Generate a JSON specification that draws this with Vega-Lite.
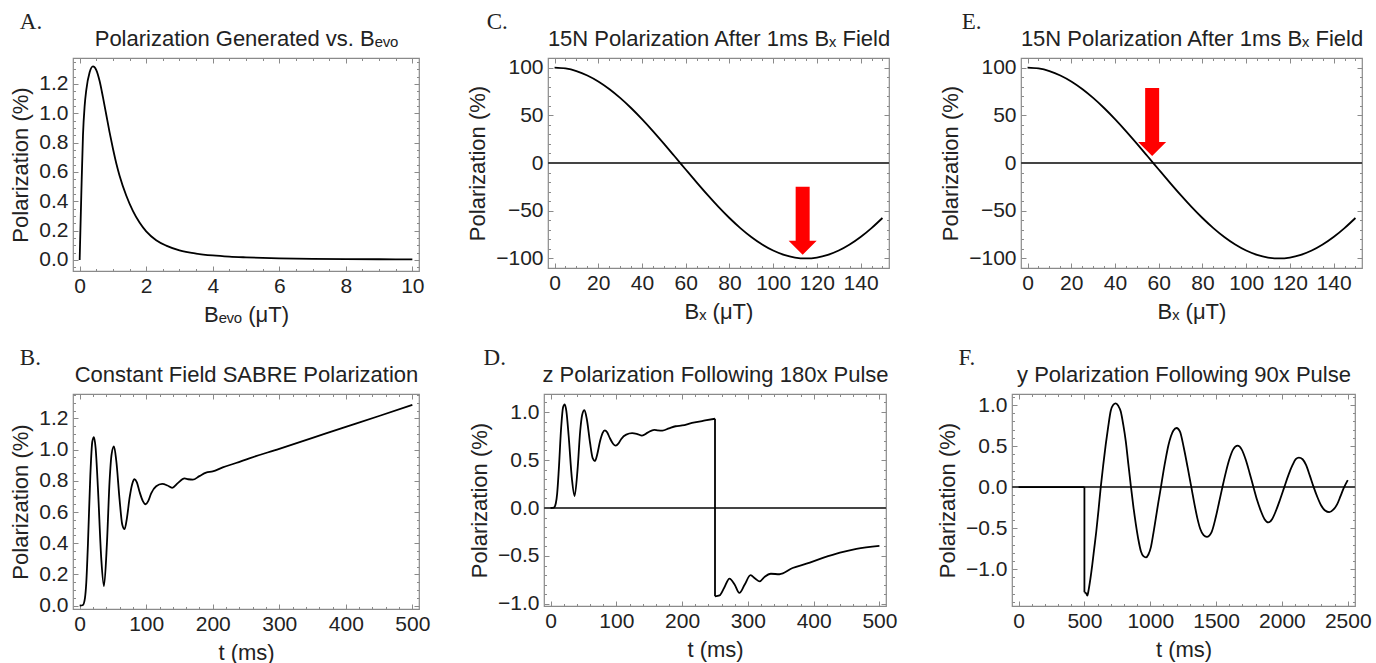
{
  "$schema": "https://vega.github.io/schema/vega-lite/v6.json",
  "background": "white",
  "padding": {"left": 9, "top": 9, "right": 0, "bottom": 0},
  "datasets": {
    "A": [{"x":0,"y":0},{"x":0.05,"y":0.45},{"x":0.1,"y":0.85},{"x":0.15,"y":1.05},{"x":0.2,"y":1.16},{"x":0.3,"y":1.28},{"x":0.4,"y":1.32},{"x":0.5,"y":1.295},{"x":0.6,"y":1.22},{"x":0.7,"y":1.11},{"x":0.8,"y":0.99},{"x":0.9,"y":0.87},{"x":1.0,"y":0.76},{"x":1.1,"y":0.66},{"x":1.2,"y":0.575},{"x":1.4,"y":0.44},{"x":1.6,"y":0.335},{"x":1.8,"y":0.255},{"x":2.0,"y":0.195},{"x":2.3,"y":0.135},{"x":2.6,"y":0.098},{"x":3.0,"y":0.066},{"x":3.5,"y":0.044},{"x":4.0,"y":0.031},{"x":4.5,"y":0.023},{"x":5.0,"y":0.018},{"x":6.0,"y":0.011},{"x":7.0,"y":0.008},{"x":8.0,"y":0.006},{"x":9.0,"y":0.005},{"x":10.0,"y":0.004}],
    "B": [{"x":0,"y":0},{"x":5,"y":0.005},{"x":8,"y":0.05},{"x":10,"y":0.15},{"x":12.5,"y":0.4},{"x":16,"y":0.83},{"x":19,"y":1.05},{"x":21.5,"y":1.08},{"x":24,"y":1.01},{"x":27.5,"y":0.75},{"x":32.5,"y":0.3},{"x":36.5,"y":0.125},{"x":41,"y":0.4},{"x":45,"y":0.8},{"x":48,"y":0.97},{"x":51.5,"y":1.02},{"x":55,"y":0.93},{"x":60,"y":0.68},{"x":64,"y":0.52},{"x":67.5,"y":0.49},{"x":71,"y":0.56},{"x":75,"y":0.69},{"x":79,"y":0.78},{"x":82.5,"y":0.81},{"x":86,"y":0.79},{"x":90,"y":0.73},{"x":95,"y":0.67},{"x":99,"y":0.65},{"x":103,"y":0.67},{"x":107.5,"y":0.72},{"x":115,"y":0.765},{"x":124,"y":0.78},{"x":132,"y":0.77},{"x":139,"y":0.755},{"x":147.5,"y":0.785},{"x":157.5,"y":0.815},{"x":163,"y":0.81},{"x":170,"y":0.807},{"x":180,"y":0.83},{"x":190,"y":0.852},{"x":200,"y":0.86},{"x":215,"y":0.886},{"x":235,"y":0.914},{"x":255,"y":0.944},{"x":300,"y":1.005},{"x":350,"y":1.075},{"x":400,"y":1.145},{"x":450,"y":1.215},{"x":500,"y":1.286}],
    "C": [{"x":0,"y":100},{"x":5,"y":99.07},{"x":10,"y":96.29},{"x":15,"y":91.72},{"x":20,"y":85.44},{"x":25,"y":77.56},{"x":30,"y":68.22},{"x":35,"y":57.64},{"x":40,"y":46.0},{"x":45,"y":33.49},{"x":50,"y":20.35},{"x":55,"y":6.82},{"x":60,"y":-6.82},{"x":65,"y":-20.35},{"x":70,"y":-33.49},{"x":75,"y":-46.0},{"x":80,"y":-57.64},{"x":85,"y":-68.22},{"x":90,"y":-77.56},{"x":95,"y":-85.44},{"x":100,"y":-91.72},{"x":105,"y":-96.29},{"x":110,"y":-99.07},{"x":115,"y":-100},{"x":120,"y":-99.07},{"x":125,"y":-96.29},{"x":130,"y":-91.72},{"x":135,"y":-85.44},{"x":140,"y":-77.56},{"x":145,"y":-68.22},{"x":150,"y":-57.64}],
    "D": [{"x":0,"y":0,"s":"a"},{"x":5,"y":0.005,"s":"a"},{"x":8,"y":0.05,"s":"a"},{"x":10,"y":0.15,"s":"a"},{"x":12.5,"y":0.4,"s":"a"},{"x":16,"y":0.83,"s":"a"},{"x":19,"y":1.05,"s":"a"},{"x":21.5,"y":1.08,"s":"a"},{"x":24,"y":1.01,"s":"a"},{"x":27.5,"y":0.75,"s":"a"},{"x":32.5,"y":0.3,"s":"a"},{"x":36.5,"y":0.125,"s":"a"},{"x":41,"y":0.4,"s":"a"},{"x":45,"y":0.8,"s":"a"},{"x":48,"y":0.97,"s":"a"},{"x":51.5,"y":1.02,"s":"a"},{"x":55,"y":0.93,"s":"a"},{"x":60,"y":0.68,"s":"a"},{"x":64,"y":0.52,"s":"a"},{"x":67.5,"y":0.49,"s":"a"},{"x":71,"y":0.56,"s":"a"},{"x":75,"y":0.69,"s":"a"},{"x":79,"y":0.78,"s":"a"},{"x":82.5,"y":0.81,"s":"a"},{"x":86,"y":0.79,"s":"a"},{"x":90,"y":0.73,"s":"a"},{"x":95,"y":0.67,"s":"a"},{"x":99,"y":0.65,"s":"a"},{"x":103,"y":0.67,"s":"a"},{"x":107.5,"y":0.72,"s":"a"},{"x":115,"y":0.765,"s":"a"},{"x":124,"y":0.78,"s":"a"},{"x":132,"y":0.77,"s":"a"},{"x":139,"y":0.755,"s":"a"},{"x":147.5,"y":0.785,"s":"a"},{"x":157.5,"y":0.815,"s":"a"},{"x":163,"y":0.81,"s":"a"},{"x":170,"y":0.807,"s":"a"},{"x":180,"y":0.83,"s":"a"},{"x":190,"y":0.852,"s":"a"},{"x":200,"y":0.86,"s":"a"},{"x":215,"y":0.886,"s":"a"},{"x":235,"y":0.912,"s":"a"},{"x":250,"y":0.93,"s":"a"},{"x":250,"y":0.93,"s":"v"},{"x":250,"y":-0.92,"s":"v"},{"x":250,"y":-0.92,"s":"b"},{"x":257,"y":-0.91,"s":"b"},{"x":264,"y":-0.83,"s":"b"},{"x":272,"y":-0.735,"s":"b"},{"x":280,"y":-0.8,"s":"b"},{"x":287,"y":-0.885,"s":"b"},{"x":295,"y":-0.8,"s":"b"},{"x":304,"y":-0.7,"s":"b"},{"x":311,"y":-0.735,"s":"b"},{"x":318,"y":-0.765,"s":"b"},{"x":325,"y":-0.72,"s":"b"},{"x":335,"y":-0.685,"s":"b"},{"x":348,"y":-0.69,"s":"b"},{"x":368,"y":-0.625,"s":"b"},{"x":389,"y":-0.58,"s":"b"},{"x":414,"y":-0.52,"s":"b"},{"x":440,"y":-0.465,"s":"b"},{"x":465,"y":-0.425,"s":"b"},{"x":500,"y":-0.395,"s":"b"}],
    "F": [{"x":0,"y":0,"s":"a"},{"x":500,"y":0,"s":"a"},{"x":500,"y":0,"s":"v"},{"x":500,"y":-1.28,"s":"v"},{"x":500,"y":-1.28,"s":"b"},{"x":512,"y":-1.29,"s":"b"},{"x":522,"y":-1.32,"s":"b"},{"x":532,"y":-1.25,"s":"b"},{"x":545,"y":-1.12,"s":"b"},{"x":560,"y":-0.94,"s":"b"},{"x":575,"y":-0.74,"s":"b"},{"x":590,"y":-0.54,"s":"b"},{"x":607,"y":-0.28,"s":"b"},{"x":624,"y":0,"s":"b"},{"x":643,"y":0.27,"s":"b"},{"x":662,"y":0.52,"s":"b"},{"x":681,"y":0.74,"s":"b"},{"x":700,"y":0.93,"s":"b"},{"x":718,"y":1.0,"s":"b"},{"x":738,"y":1.02,"s":"b"},{"x":757,"y":0.99,"s":"b"},{"x":776,"y":0.92,"s":"b"},{"x":795,"y":0.76,"s":"b"},{"x":814,"y":0.56,"s":"b"},{"x":833,"y":0.29,"s":"b"},{"x":853,"y":0.01,"s":"b"},{"x":872,"y":-0.24,"s":"b"},{"x":891,"y":-0.455,"s":"b"},{"x":910,"y":-0.64,"s":"b"},{"x":929,"y":-0.78,"s":"b"},{"x":948,"y":-0.84,"s":"b"},{"x":967,"y":-0.855,"s":"b"},{"x":986,"y":-0.82,"s":"b"},{"x":1005,"y":-0.73,"s":"b"},{"x":1024,"y":-0.56,"s":"b"},{"x":1043,"y":-0.37,"s":"b"},{"x":1062,"y":-0.18,"s":"b"},{"x":1081,"y":0,"s":"b"},{"x":1100,"y":0.19,"s":"b"},{"x":1119,"y":0.36,"s":"b"},{"x":1138,"y":0.51,"s":"b"},{"x":1157,"y":0.62,"s":"b"},{"x":1176,"y":0.69,"s":"b"},{"x":1200,"y":0.72,"s":"b"},{"x":1225,"y":0.68,"s":"b"},{"x":1256,"y":0.47,"s":"b"},{"x":1284,"y":0.24,"s":"b"},{"x":1312,"y":0,"s":"b"},{"x":1335,"y":-0.2,"s":"b"},{"x":1358,"y":-0.38,"s":"b"},{"x":1380,"y":-0.51,"s":"b"},{"x":1405,"y":-0.585,"s":"b"},{"x":1430,"y":-0.605,"s":"b"},{"x":1465,"y":-0.55,"s":"b"},{"x":1497,"y":-0.37,"s":"b"},{"x":1522,"y":-0.19,"s":"b"},{"x":1548,"y":0,"s":"b"},{"x":1574,"y":0.18,"s":"b"},{"x":1599,"y":0.33,"s":"b"},{"x":1630,"y":0.46,"s":"b"},{"x":1664,"y":0.505,"s":"b"},{"x":1694,"y":0.46,"s":"b"},{"x":1726,"y":0.33,"s":"b"},{"x":1755,"y":0.17,"s":"b"},{"x":1784,"y":0,"s":"b"},{"x":1812,"y":-0.16,"s":"b"},{"x":1840,"y":-0.29,"s":"b"},{"x":1868,"y":-0.39,"s":"b"},{"x":1897,"y":-0.43,"s":"b"},{"x":1925,"y":-0.39,"s":"b"},{"x":1954,"y":-0.29,"s":"b"},{"x":1986,"y":-0.15,"s":"b"},{"x":2018,"y":0,"s":"b"},{"x":2050,"y":0.15,"s":"b"},{"x":2081,"y":0.27,"s":"b"},{"x":2105,"y":0.34,"s":"b"},{"x":2129,"y":0.36,"s":"b"},{"x":2157,"y":0.34,"s":"b"},{"x":2183,"y":0.27,"s":"b"},{"x":2212,"y":0.14,"s":"b"},{"x":2241,"y":0,"s":"b"},{"x":2269,"y":-0.12,"s":"b"},{"x":2297,"y":-0.22,"s":"b"},{"x":2328,"y":-0.285,"s":"b"},{"x":2360,"y":-0.305,"s":"b"},{"x":2390,"y":-0.275,"s":"b"},{"x":2419,"y":-0.21,"s":"b"},{"x":2445,"y":-0.11,"s":"b"},{"x":2470,"y":-0.01,"s":"b"},{"x":2500,"y":0.085,"s":"b"}],
    "arrowC": [{"x":113.5,"y":-60.5}],
    "arrowE": [{"x":57,"y":43}]
  },
  "vconcat": [
    {
      "hconcat": [
        {
          "width": 346, "height": 213,
          "title": {"text": "A.", "dx": 10},
          "data": {"name": "A"},
          "layer": [
            {"mark": {"type": "line", "color": "#000", "strokeWidth": 1.8, "interpolate": "monotone"},
             "encoding": {
               "x": {"field": "x", "type": "quantitative", "scale": {"domain": [-0.2, 10.2], "nice": false, "zero": false},
                 "axis": {"orient": "bottom", "values": [0,0.5,1,1.5,2,2.5,3,3.5,4,4.5,5,5.5,6,6.5,7,7.5,8,8.5,9,9.5,10], "tickSize": {"condition": {"test": "abs(datum.value/2-round(datum.value/2))<1e-6", "value": -5}, "value": -2.5}, "labelExpr": "abs(datum.value/2-round(datum.value/2))<1e-6 ? format(datum.value,'d') : ''", "labelPadding": 9, "title": "Bₑᵥₒ (μT)"}},
               "y": {"field": "y", "type": "quantitative", "scale": {"domain": [-0.075, 1.377], "nice": false, "zero": false},
                 "axis": {"orient": "left", "values": [-0.05,0,0.05,0.1,0.15,0.2,0.25,0.3,0.35,0.4,0.45,0.5,0.55,0.6,0.65,0.7,0.75,0.8,0.85,0.9,0.95,1,1.05,1.1,1.15,1.2,1.25,1.3,1.35], "tickSize": {"condition": {"test": "abs(datum.value/0.2-round(datum.value/0.2))<1e-6", "value": -5}, "value": -2.5}, "labelExpr": "abs(datum.value/0.2-round(datum.value/0.2))<1e-6 ? format(datum.value,'.1f') : ''", "labelPadding": 10, "title": "Polarization (%)"}}
             }},
            {"mark": {"type": "line", "opacity": 0},
             "encoding": {
               "x": {"field": "x", "type": "quantitative", "scale": {"domain": [-0.2, 10.2], "nice": false, "zero": false},
                 "axis": {"orient": "top", "values": [0,0.5,1,1.5,2,2.5,3,3.5,4,4.5,5,5.5,6,6.5,7,7.5,8,8.5,9,9.5,10], "tickSize": {"condition": {"test": "abs(datum.value/2-round(datum.value/2))<1e-6", "value": -5}, "value": -2.5}, "labels": false, "title": "Polarization Generated vs. Bₑᵥₒ"}},
               "y": {"field": "y", "type": "quantitative", "scale": {"domain": [-0.075, 1.377], "nice": false, "zero": false},
                 "axis": {"orient": "right", "values": [-0.05,0,0.05,0.1,0.15,0.2,0.25,0.3,0.35,0.4,0.45,0.5,0.55,0.6,0.65,0.7,0.75,0.8,0.85,0.9,0.95,1,1.05,1.1,1.15,1.2,1.25,1.3,1.35], "tickSize": {"condition": {"test": "abs(datum.value/0.2-round(datum.value/0.2))<1e-6", "value": -5}, "value": -2.5}, "labels": false, "title": null}}
             }}
          ],
          "resolve": {"axis": {"x": "independent", "y": "independent"}}
        },
        {
          "spacing": 48,
          "hconcat": [
            {
              "width": 341, "height": 210,
              "title": {"text": "C.", "dx": 20},
              "data": {"name": "C"},
              "layer": [
                {"mark": {"type": "rule", "color": "#444", "strokeWidth": 1.2},
                 "encoding": {"y": {"datum": 0, "type": "quantitative", "scale": {"domain": [-110, 110], "nice": false, "zero": false}, "axis": null}}},
                {"mark": {"type": "line", "color": "#000", "strokeWidth": 1.8, "interpolate": "monotone"},
                 "encoding": {
                   "x": {"field": "x", "type": "quantitative", "scale": {"domain": [-3, 153], "nice": false, "zero": false},
                     "axis": {"orient": "bottom", "values": [0,5,10,15,20,25,30,35,40,45,50,55,60,65,70,75,80,85,90,95,100,105,110,115,120,125,130,135,140,145,150], "tickSize": {"condition": {"test": "abs(datum.value/20-round(datum.value/20))<1e-6", "value": -5}, "value": -2.5}, "labelExpr": "abs(datum.value/20-round(datum.value/20))<1e-6 ? format(datum.value,'d') : ''", "labelPadding": 9, "title": "Bₓ (μT)"}},
                   "y": {"field": "y", "type": "quantitative", "scale": {"domain": [-110, 110], "nice": false, "zero": false},
                     "axis": {"orient": "left", "values": [-100,-90,-80,-70,-60,-50,-40,-30,-20,-10,0,10,20,30,40,50,60,70,80,90,100], "tickSize": {"condition": {"test": "abs(datum.value/50-round(datum.value/50))<1e-6", "value": -5}, "value": -2.5}, "labelExpr": "abs(datum.value/50-round(datum.value/50))<1e-6 ? format(datum.value,'d') : ''", "labelPadding": 10, "title": "Polarization (%)"}}
                 }},
                {"mark": {"type": "line", "opacity": 0},
                 "encoding": {
                   "x": {"field": "x", "type": "quantitative", "scale": {"domain": [-3, 153], "nice": false, "zero": false},
                     "axis": {"orient": "top", "values": [0,5,10,15,20,25,30,35,40,45,50,55,60,65,70,75,80,85,90,95,100,105,110,115,120,125,130,135,140,145,150], "tickSize": {"condition": {"test": "abs(datum.value/20-round(datum.value/20))<1e-6", "value": -5}, "value": -2.5}, "labels": false, "title": "15N Polarization After 1ms Bₓ Field"}},
                   "y": {"field": "y", "type": "quantitative", "scale": {"domain": [-110, 110], "nice": false, "zero": false},
                     "axis": {"orient": "right", "values": [-100,-90,-80,-70,-60,-50,-40,-30,-20,-10,0,10,20,30,40,50,60,70,80,90,100], "tickSize": {"condition": {"test": "abs(datum.value/50-round(datum.value/50))<1e-6", "value": -5}, "value": -2.5}, "labels": false, "title": null}}
                 }},
                {"data": {"name": "arrowC"},
                 "mark": {"type": "point", "shape": "M-0.5,-2.43L0.5,-2.43L0.5,1.43L1,1.43L0,2.43L-1,1.43L-0.5,1.43Z", "size": 784, "filled": true, "color": "#ff0000", "opacity": 1, "strokeWidth": 0},
                 "encoding": {
                   "x": {"field": "x", "type": "quantitative", "scale": {"domain": [-3, 153], "nice": false, "zero": false}, "axis": null},
                   "y": {"field": "y", "type": "quantitative", "scale": {"domain": [-110, 110], "nice": false, "zero": false}, "axis": null}
                 }}
              ],
              "resolve": {"axis": {"x": "independent", "y": "independent"}}
            },
            {
              "width": 341, "height": 210,
              "title": {"text": "E.", "dx": 22},
              "data": {"name": "C"},
              "layer": [
                {"mark": {"type": "rule", "color": "#444", "strokeWidth": 1.2},
                 "encoding": {"y": {"datum": 0, "type": "quantitative", "scale": {"domain": [-110, 110], "nice": false, "zero": false}, "axis": null}}},
                {"mark": {"type": "line", "color": "#000", "strokeWidth": 1.8, "interpolate": "monotone"},
                 "encoding": {
                   "x": {"field": "x", "type": "quantitative", "scale": {"domain": [-3, 153], "nice": false, "zero": false},
                     "axis": {"orient": "bottom", "values": [0,5,10,15,20,25,30,35,40,45,50,55,60,65,70,75,80,85,90,95,100,105,110,115,120,125,130,135,140,145,150], "tickSize": {"condition": {"test": "abs(datum.value/20-round(datum.value/20))<1e-6", "value": -5}, "value": -2.5}, "labelExpr": "abs(datum.value/20-round(datum.value/20))<1e-6 ? format(datum.value,'d') : ''", "labelPadding": 9, "title": "Bₓ (μT)"}},
                   "y": {"field": "y", "type": "quantitative", "scale": {"domain": [-110, 110], "nice": false, "zero": false},
                     "axis": {"orient": "left", "values": [-100,-90,-80,-70,-60,-50,-40,-30,-20,-10,0,10,20,30,40,50,60,70,80,90,100], "tickSize": {"condition": {"test": "abs(datum.value/50-round(datum.value/50))<1e-6", "value": -5}, "value": -2.5}, "labelExpr": "abs(datum.value/50-round(datum.value/50))<1e-6 ? format(datum.value,'d') : ''", "labelPadding": 10, "title": "Polarization (%)"}}
                 }},
                {"mark": {"type": "line", "opacity": 0},
                 "encoding": {
                   "x": {"field": "x", "type": "quantitative", "scale": {"domain": [-3, 153], "nice": false, "zero": false},
                     "axis": {"orient": "top", "values": [0,5,10,15,20,25,30,35,40,45,50,55,60,65,70,75,80,85,90,95,100,105,110,115,120,125,130,135,140,145,150], "tickSize": {"condition": {"test": "abs(datum.value/20-round(datum.value/20))<1e-6", "value": -5}, "value": -2.5}, "labels": false, "title": "15N Polarization After 1ms Bₓ Field"}},
                   "y": {"field": "y", "type": "quantitative", "scale": {"domain": [-110, 110], "nice": false, "zero": false},
                     "axis": {"orient": "right", "values": [-100,-90,-80,-70,-60,-50,-40,-30,-20,-10,0,10,20,30,40,50,60,70,80,90,100], "tickSize": {"condition": {"test": "abs(datum.value/50-round(datum.value/50))<1e-6", "value": -5}, "value": -2.5}, "labels": false, "title": null}}
                 }},
                {"data": {"name": "arrowE"},
                 "mark": {"type": "point", "shape": "M-0.5,-2.43L0.5,-2.43L0.5,1.43L1,1.43L0,2.43L-1,1.43L-0.5,1.43Z", "size": 784, "filled": true, "color": "#ff0000", "opacity": 1, "strokeWidth": 0},
                 "encoding": {
                   "x": {"field": "x", "type": "quantitative", "scale": {"domain": [-3, 153], "nice": false, "zero": false}, "axis": null},
                   "y": {"field": "y", "type": "quantitative", "scale": {"domain": [-110, 110], "nice": false, "zero": false}, "axis": null}
                 }}
              ],
              "resolve": {"axis": {"x": "independent", "y": "independent"}}
            }
          ]
        }
      ],
      "spacing": 41
    },
    {
      "hconcat": [
        {
          "width": 346, "height": 215,
          "title": {"text": "B.", "dx": 10},
          "data": {"name": "B"},
          "layer": [
            {"mark": {"type": "line", "color": "#000", "strokeWidth": 1.8, "interpolate": "monotone"},
             "encoding": {
               "x": {"field": "x", "type": "quantitative", "scale": {"domain": [-10, 510], "nice": false, "zero": false},
                 "axis": {"orient": "bottom", "values": [0,20,40,60,80,100,120,140,160,180,200,220,240,260,280,300,320,340,360,380,400,420,440,460,480,500], "tickSize": {"condition": {"test": "abs(datum.value/100-round(datum.value/100))<1e-6", "value": -5}, "value": -2.5}, "labelExpr": "abs(datum.value/100-round(datum.value/100))<1e-6 ? format(datum.value,'d') : ''", "labelPadding": 9, "title": "t (ms)"}},
               "y": {"field": "y", "type": "quantitative", "scale": {"domain": [-0.021, 1.356], "nice": false, "zero": false},
                 "axis": {"orient": "left", "values": [0,0.05,0.1,0.15,0.2,0.25,0.3,0.35,0.4,0.45,0.5,0.55,0.6,0.65,0.7,0.75,0.8,0.85,0.9,0.95,1,1.05,1.1,1.15,1.2,1.25,1.3,1.35], "tickSize": {"condition": {"test": "abs(datum.value/0.2-round(datum.value/0.2))<1e-6", "value": -5}, "value": -2.5}, "labelExpr": "abs(datum.value/0.2-round(datum.value/0.2))<1e-6 ? format(datum.value,'.1f') : ''", "labelPadding": 10, "title": "Polarization (%)"}}
             }},
            {"mark": {"type": "line", "opacity": 0},
             "encoding": {
               "x": {"field": "x", "type": "quantitative", "scale": {"domain": [-10, 510], "nice": false, "zero": false},
                 "axis": {"orient": "top", "values": [0,20,40,60,80,100,120,140,160,180,200,220,240,260,280,300,320,340,360,380,400,420,440,460,480,500], "tickSize": {"condition": {"test": "abs(datum.value/100-round(datum.value/100))<1e-6", "value": -5}, "value": -2.5}, "labels": false, "title": "Constant Field SABRE Polarization"}},
               "y": {"field": "y", "type": "quantitative", "scale": {"domain": [-0.021, 1.356], "nice": false, "zero": false},
                 "axis": {"orient": "right", "values": [0,0.05,0.1,0.15,0.2,0.25,0.3,0.35,0.4,0.45,0.5,0.55,0.6,0.65,0.7,0.75,0.8,0.85,0.9,0.95,1,1.05,1.1,1.15,1.2,1.25,1.3,1.35], "tickSize": {"condition": {"test": "abs(datum.value/0.2-round(datum.value/0.2))<1e-6", "value": -5}, "value": -2.5}, "labels": false, "title": null}}
             }}
          ],
          "resolve": {"axis": {"x": "independent", "y": "independent"}}
        },
        {
          "spacing": 37,
          "hconcat": [
            {
              "width": 342, "height": 212,
              "title": {"text": "D.", "dx": 15},
              "data": {"name": "D"},
              "layer": [
                {"mark": {"type": "rule", "color": "#444", "strokeWidth": 1.2},
                 "encoding": {"y": {"datum": 0, "type": "quantitative", "scale": {"domain": [-1.021, 1.188], "nice": false, "zero": false}, "axis": null}}},
                {"mark": {"type": "line", "color": "#000", "strokeWidth": 1.8, "interpolate": "monotone"},
                 "encoding": {
                   "detail": {"field": "s"},
                   "x": {"field": "x", "type": "quantitative", "scale": {"domain": [-10, 510], "nice": false, "zero": false},
                     "axis": {"orient": "bottom", "values": [0,20,40,60,80,100,120,140,160,180,200,220,240,260,280,300,320,340,360,380,400,420,440,460,480,500], "tickSize": {"condition": {"test": "abs(datum.value/100-round(datum.value/100))<1e-6", "value": -5}, "value": -2.5}, "labelExpr": "abs(datum.value/100-round(datum.value/100))<1e-6 ? format(datum.value,'d') : ''", "labelPadding": 9, "title": "t (ms)"}},
                   "y": {"field": "y", "type": "quantitative", "scale": {"domain": [-1.021, 1.188], "nice": false, "zero": false},
                     "axis": {"orient": "left", "values": [-1,-0.9,-0.8,-0.7,-0.6,-0.5,-0.4,-0.3,-0.2,-0.1,0,0.1,0.2,0.3,0.4,0.5,0.6,0.7,0.8,0.9,1,1.1], "tickSize": {"condition": {"test": "abs(datum.value/0.5-round(datum.value/0.5))<1e-6", "value": -5}, "value": -2.5}, "labelExpr": "abs(datum.value/0.5-round(datum.value/0.5))<1e-6 ? format(datum.value,'.1f') : ''", "labelPadding": 10, "title": "Polarization (%)"}}
                 }},
                {"mark": {"type": "line", "opacity": 0},
                 "encoding": {
                   "detail": {"field": "s"},
                   "x": {"field": "x", "type": "quantitative", "scale": {"domain": [-10, 510], "nice": false, "zero": false},
                     "axis": {"orient": "top", "values": [0,20,40,60,80,100,120,140,160,180,200,220,240,260,280,300,320,340,360,380,400,420,440,460,480,500], "tickSize": {"condition": {"test": "abs(datum.value/100-round(datum.value/100))<1e-6", "value": -5}, "value": -2.5}, "labels": false, "title": "z Polarization Following 180x Pulse"}},
                   "y": {"field": "y", "type": "quantitative", "scale": {"domain": [-1.021, 1.188], "nice": false, "zero": false},
                     "axis": {"orient": "right", "values": [-1,-0.9,-0.8,-0.7,-0.6,-0.5,-0.4,-0.3,-0.2,-0.1,0,0.1,0.2,0.3,0.4,0.5,0.6,0.7,0.8,0.9,1,1.1], "tickSize": {"condition": {"test": "abs(datum.value/0.5-round(datum.value/0.5))<1e-6", "value": -5}, "value": -2.5}, "labels": false, "title": null}}
                 }}
              ],
              "resolve": {"axis": {"x": "independent", "y": "independent"}}
            },
            {
              "width": 343, "height": 212,
              "title": {"text": "F.", "dx": 22},
              "data": {"name": "F"},
              "layer": [
                {"mark": {"type": "rule", "color": "#444", "strokeWidth": 1.2},
                 "encoding": {"y": {"datum": 0, "type": "quantitative", "scale": {"domain": [-1.447, 1.134], "nice": false, "zero": false}, "axis": null}}},
                {"mark": {"type": "line", "color": "#000", "strokeWidth": 1.8, "interpolate": "monotone"},
                 "encoding": {
                   "detail": {"field": "s"},
                   "x": {"field": "x", "type": "quantitative", "scale": {"domain": [-50, 2555], "nice": false, "zero": false},
                     "axis": {"orient": "bottom", "values": [0,100,200,300,400,500,600,700,800,900,1000,1100,1200,1300,1400,1500,1600,1700,1800,1900,2000,2100,2200,2300,2400,2500], "tickSize": {"condition": {"test": "abs(datum.value/500-round(datum.value/500))<1e-6", "value": -5}, "value": -2.5}, "labelExpr": "abs(datum.value/500-round(datum.value/500))<1e-6 ? format(datum.value,'d') : ''", "labelPadding": 9, "title": "t (ms)"}},
                   "y": {"field": "y", "type": "quantitative", "scale": {"domain": [-1.447, 1.134], "nice": false, "zero": false},
                     "axis": {"orient": "left", "values": [-1.4,-1.3,-1.2,-1.1,-1,-0.9,-0.8,-0.7,-0.6,-0.5,-0.4,-0.3,-0.2,-0.1,0,0.1,0.2,0.3,0.4,0.5,0.6,0.7,0.8,0.9,1,1.1], "tickSize": {"condition": {"test": "abs(datum.value/0.5-round(datum.value/0.5))<1e-6", "value": -5}, "value": -2.5}, "labelExpr": "abs(datum.value/0.5-round(datum.value/0.5))<1e-6 ? format(datum.value,'.1f') : ''", "labelPadding": 10, "title": "Polarization (%)"}}
                 }},
                {"mark": {"type": "line", "opacity": 0},
                 "encoding": {
                   "detail": {"field": "s"},
                   "x": {"field": "x", "type": "quantitative", "scale": {"domain": [-50, 2555], "nice": false, "zero": false},
                     "axis": {"orient": "top", "values": [0,100,200,300,400,500,600,700,800,900,1000,1100,1200,1300,1400,1500,1600,1700,1800,1900,2000,2100,2200,2300,2400,2500], "tickSize": {"condition": {"test": "abs(datum.value/500-round(datum.value/500))<1e-6", "value": -5}, "value": -2.5}, "labels": false, "title": "y Polarization Following 90x Pulse"}},
                   "y": {"field": "y", "type": "quantitative", "scale": {"domain": [-1.447, 1.134], "nice": false, "zero": false},
                     "axis": {"orient": "right", "values": [-1.4,-1.3,-1.2,-1.1,-1,-0.9,-0.8,-0.7,-0.6,-0.5,-0.4,-0.3,-0.2,-0.1,0,0.1,0.2,0.3,0.4,0.5,0.6,0.7,0.8,0.9,1,1.1], "tickSize": {"condition": {"test": "abs(datum.value/0.5-round(datum.value/0.5))<1e-6", "value": -5}, "value": -2.5}, "labels": false, "title": null}}
                 }}
              ],
              "resolve": {"axis": {"x": "independent", "y": "independent"}}
            }
          ]
        }
      ],
      "spacing": 36
    }
  ],
  "spacing": 18,
  "config": {
    "view": {"stroke": "#8a8a8a", "strokeWidth": 1.2},
    "title": {"anchor": "start", "frame": "bounds", "font": "Liberation Serif", "fontSize": 23, "fontWeight": "normal", "color": "#222", "offset": -6},
    "axis": {"domain": false, "grid": false, "labelFont": "Liberation Sans", "labelFontSize": 21, "labelColor": "#222", "titleFont": "Liberation Sans", "titleFontSize": 22, "titleFontWeight": "normal", "titleColor": "#222", "tickColor": "#8a8a8a", "tickWidth": 1, "labelOverlap": false, "labelFlush": false, "labelBound": false},
    "axisBottom": {"titlePadding": 6},
    "axisLeft": {"titlePadding": 6},
    "axisTop": {"titlePadding": 7}
  }
}
